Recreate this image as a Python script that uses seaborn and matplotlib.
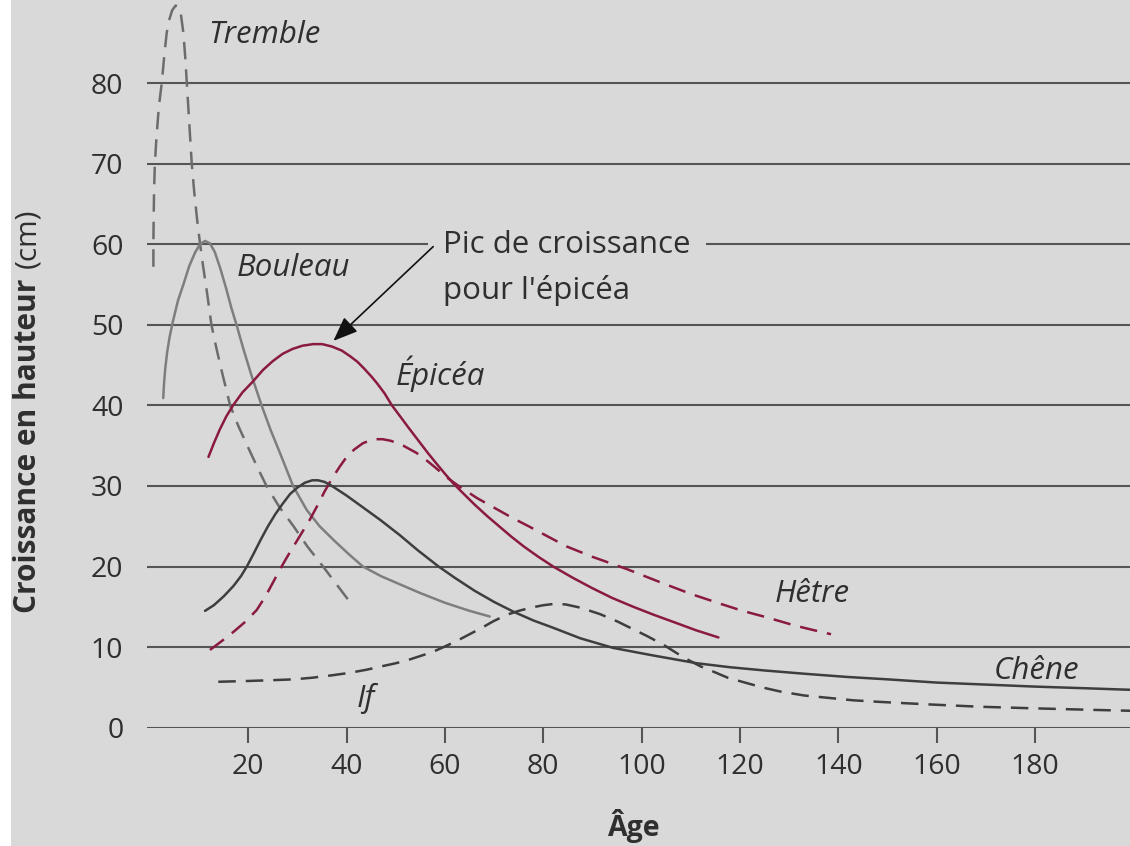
import pandas as pd
import numpy as np
import matplotlib
matplotlib.use("Agg")
import matplotlib.pyplot as plt
from matplotlib.patches import Rectangle
import seaborn as sns

# Values (age in years, growth in cm)
tremble_x = [0.7, 0.7, 0.75, 0.85, 1.0, 1.3, 1.8, 2.4, 2.9, 3.4, 3.9, 4.5, 5.2, 5.8, 6.3, 6.8,
             7.2, 7.5, 7.8, 8.1, 8.5, 9.0, 9.6, 10.2, 10.8, 11.6, 12.5, 13.4, 14.3, 15.3, 16.3,
             18.0, 19.8, 21.7, 23.7, 26.3, 29.2, 32.0, 35.2, 38.3, 41.4]
tremble_y = [57.2, 60, 63, 67, 70, 73, 77, 80, 83.3, 86.2, 87.8, 89, 89.6, 89.5, 88.5, 86.2,
             83, 80, 77, 74, 70, 66.5, 63, 60, 57.3, 54, 50, 47.4, 45, 42.5, 40,
             37.4, 35, 32.5, 30, 27.4, 25, 22.5, 20, 17.5, 15]

bouleau_x = [2.7, 2.85, 3.1, 3.5, 4.0, 4.7, 5.7, 6.8, 8.0, 9.2, 10.2, 11.2, 12.2, 13.2, 14.3,
             15.5, 16.6, 17.6, 19.0, 20.5, 22.7, 24.5, 26.5, 29.1, 31.9, 34.5, 37.5, 40.5,
             43.3, 47.0, 50.8, 55.0, 60.0, 65.0, 69.1]
bouleau_y = [40.9, 42.6, 44.5, 46.6, 48.5, 50.5, 53, 55, 57.3, 59, 60, 60.4, 60.1, 59, 57,
             54.5, 52, 50, 47, 44, 40, 37, 34, 30, 27, 25, 23.2, 21.5,
             20, 18.8, 17.8, 16.7, 15.5, 14.5, 13.8]

epicea_x = [11.9, 13, 14.2, 15.5, 16.9, 18.8, 21, 23, 25, 27, 29, 31, 33.2, 35, 37, 39, 40.7,
            42.2, 43.5, 45, 46.1, 47.7, 49.2, 50.8, 52.5, 54.5, 56.5, 58.5, 60, 61.7, 64, 66,
            68.5, 71, 73.5, 76, 79, 82, 86, 90, 94, 98.3, 102.5, 107, 111, 115.6]
epicea_y = [33.6, 35.3, 37, 38.6, 40, 41.6, 43, 44.4, 45.5, 46.4, 47, 47.4, 47.6, 47.6, 47.3,
            46.8, 46.1, 45.4, 44.6, 43.6, 42.8, 41.5, 40, 38.7, 37.3, 35.7, 34.1, 32.6, 31.5,
            30.3, 28.9, 27.7, 26.3, 25, 23.7, 22.5, 21.2, 20, 18.6, 17.3, 16.1, 15, 14, 13,
            12.1, 11.2]

hetre_x = [12.2, 14.5, 17, 19.5, 21.7, 23.5, 25, 26.4, 28, 29.5, 31, 32.5, 34, 35.5, 37, 38.6,
           40, 41.5, 43.3, 45.4, 47.3, 49, 51.5, 54.2, 56, 58, 60.5, 63, 66.5, 70, 73.5, 77,
           81, 84.7, 90, 96.9, 104.4, 110, 115.9, 120.5, 125.4, 131, 135, 138.5]
hetre_y = [9.65, 10.7, 11.9, 13.2, 14.6, 16.3, 18, 19.6, 21.3, 22.8, 24.3, 25.8, 27.5, 29.3,
           30.9, 32.4, 33.6, 34.5, 35.3, 35.8, 35.8, 35.6, 35, 34.1, 33.3, 32.3, 31, 29.9,
           28.5, 27.3, 26.1, 25, 23.7, 22.5, 21.2, 19.7, 17.9, 16.6, 15.4, 14.5, 13.7, 12.7,
           12.1, 11.6]

chene_x = [11.2, 13, 15, 17, 18.5, 19.7, 21, 22.5, 24, 25.5, 27, 28.5, 30, 31.5, 33, 34.2,
           35.5, 37, 38.5, 40, 43.4, 46.8, 50.8, 54.5, 58.7, 62, 66, 70, 73.9, 78, 82, 87.5,
           94.2, 102, 111.2, 118, 125, 133, 141.7, 150, 160, 170, 180, 190, 199.5]
chene_y = [14.5, 15.2, 16.3, 17.6, 18.8, 20, 21.5, 23.3, 25, 26.5, 27.8, 29, 29.8, 30.4,
           30.7, 30.7, 30.5, 30.0, 29.4, 28.8, 27.3, 25.8, 23.9, 22, 20, 18.6, 17, 15.6, 14.4,
           13.3, 12.4, 11.1, 9.9, 9.0, 8.0, 7.5, 7.1, 6.7, 6.3, 6.0, 5.6, 5.35, 5.1, 4.9, 4.7]

if_x = [13.9, 20, 25, 29.2, 33, 37, 40.5, 44.1, 47, 50, 52.5, 55, 57.5, 59.7, 62.5, 65, 67.5,
        69.8, 72.5, 75, 77.5, 80, 82, 84.5, 87.5, 91.5, 95, 98, 101, 104.4, 107, 109.5, 112,
        114.6, 117.5, 121, 124.5, 128.1, 133, 138, 143, 148.5, 158, 168.8, 180, 192.5, 199.5]
if_y = [5.7, 5.8, 5.9, 6.0, 6.2, 6.5, 6.8, 7.2, 7.6, 8.0, 8.4, 8.9, 9.4, 10.0, 10.8, 11.6, 12.4,
        13.2, 14.0, 14.5, 14.9, 15.2, 15.35, 15.3, 14.9, 14.1, 13.2, 12.3, 11.4, 10.3, 9.3, 8.4,
        7.6, 6.95, 6.2, 5.6, 5.0, 4.5, 4.0, 3.7, 3.4, 3.2, 2.9, 2.6, 2.4, 2.2, 2.1]

x_ticks = [20, 40, 60, 80, 100, 120, 140, 160, 180]
y_ticks = [0, 10, 20, 30, 40, 50, 60, 70, 80]

series = {
    "Tremble": (tremble_x, tremble_y),
    "Bouleau": (bouleau_x, bouleau_y),
    "Épicéa": (epicea_x, epicea_y),
    "Hêtre": (hetre_x, hetre_y),
    "Chêne": (chene_x, chene_y),
    "If": (if_x, if_y),
}

frames = []
for name, (xs, ys) in series.items():
    frames.append(pd.DataFrame({"age": xs, "croissance": ys, "espece": name}))
df = pd.concat(frames, ignore_index=True)

bg = "#d9d9d9"
grid_col = "#555555"
text_col = "#2f2f2f"
crimson = "#8a1a3e"

sns.set_theme(style="white")
plt.rcParams["font.family"] = ["Open Sans", "DejaVu Sans"]

fig = plt.figure(figsize=(11.3, 8.46), dpi=100)
fig.patch.set_facecolor("white")
fig.patches.append(Rectangle((11 / 1130, 0), 1, 1, transform=fig.transFigure,
                             facecolor=bg, edgecolor="none", zorder=-10))

ax = fig.add_axes([147 / 1130, (846 - 727.7) / 846, (1130 - 147) / 1130, 727.7 / 846])
ax.set_facecolor(bg)

palette = {"Tremble": "#6c6c6c", "Bouleau": "#7e7e7e", "Épicéa": crimson,
           "Hêtre": crimson, "Chêne": "#3e3e3e", "If": "#3e3e3e"}
dashes = {"Tremble": (7, 4), "Bouleau": "", "Épicéa": "", "Hêtre": (7, 4),
          "Chêne": "", "If": (7, 4)}

sns.lineplot(data=df, x="age", y="croissance", hue="espece", style="espece",
             palette=palette, dashes=dashes, estimator=None, sort=False,
             linewidth=1.8, legend=False, ax=ax, zorder=3)

ax.set_xlim(-0.6, 199.3)
ax.set_ylim(0, 90.3)
ax.set_xticks(x_ticks)
ax.set_yticks(y_ticks)
ax.set_xlabel("")
ax.set_ylabel("")
for s in ax.spines.values():
    s.set_visible(False)
ax.set_axisbelow(True)
ax.yaxis.grid(True, color=grid_col, linewidth=1.5)
ax.xaxis.grid(False)
ax.tick_params(axis="y", length=0, pad=17, labelsize=20.5, labelcolor=text_col)
ax.tick_params(axis="x", bottom=True, direction="out", length=11, width=1.5,
               color=grid_col, pad=7, labelsize=20.5, labelcolor=text_col)

# curve names
lab = dict(fontsize=22.5, style="italic", color=text_col, va="baseline", ha="left")
ax.text(11.8, 85.0, "Tremble", **lab)
ax.text(17.6, 56.0, "Bouleau", **lab)
ax.text(50.0, 42.5, "Épicéa", **lab)
ax.text(127.1, 15.6, "Hêtre", **lab)
ax.text(171.5, 6.1, "Chêne", clip_on=False, **lab)
ax.text(42.0, 2.6, "If", **lab)

# annotation for the spruce peak
ax.text(59.65, 58.9, "Pic de croissance", fontsize=22.5, color=text_col, va="baseline",
        ha="left", zorder=4,
        bbox=dict(boxstyle="square,pad=0.5", facecolor=bg, edgecolor="none"))
ax.text(59.65, 53.2, "pour l'épicéa", fontsize=22.5, color=text_col, va="baseline",
        ha="left", zorder=4)
ax.annotate("", xy=(37.3, 48.0), xytext=(57.6, 59.7), zorder=5,
            arrowprops=dict(arrowstyle="-|>,head_length=0.75,head_width=0.3",
                            color="#111111", lw=1.2, mutation_scale=20,
                            shrinkA=0, shrinkB=0))

# axis titles
fig.text(633 / 1130, (846 - 826) / 846, "Âge", fontsize=20.5, fontweight="bold",
         color=text_col, ha="center", va="center")
fig.text(28 / 1130, (846 - 613) / 846, "Croissance en hauteur", fontsize=21.5,
         fontweight="bold", color=text_col, rotation=90, ha="center", va="bottom")
fig.text(28 / 1130, (846 - 268) / 846, "(cm)", fontsize=21.5, color=text_col,
         rotation=90, ha="center", va="bottom")

fig.savefig("out.png", dpi=100, facecolor=fig.get_facecolor())
